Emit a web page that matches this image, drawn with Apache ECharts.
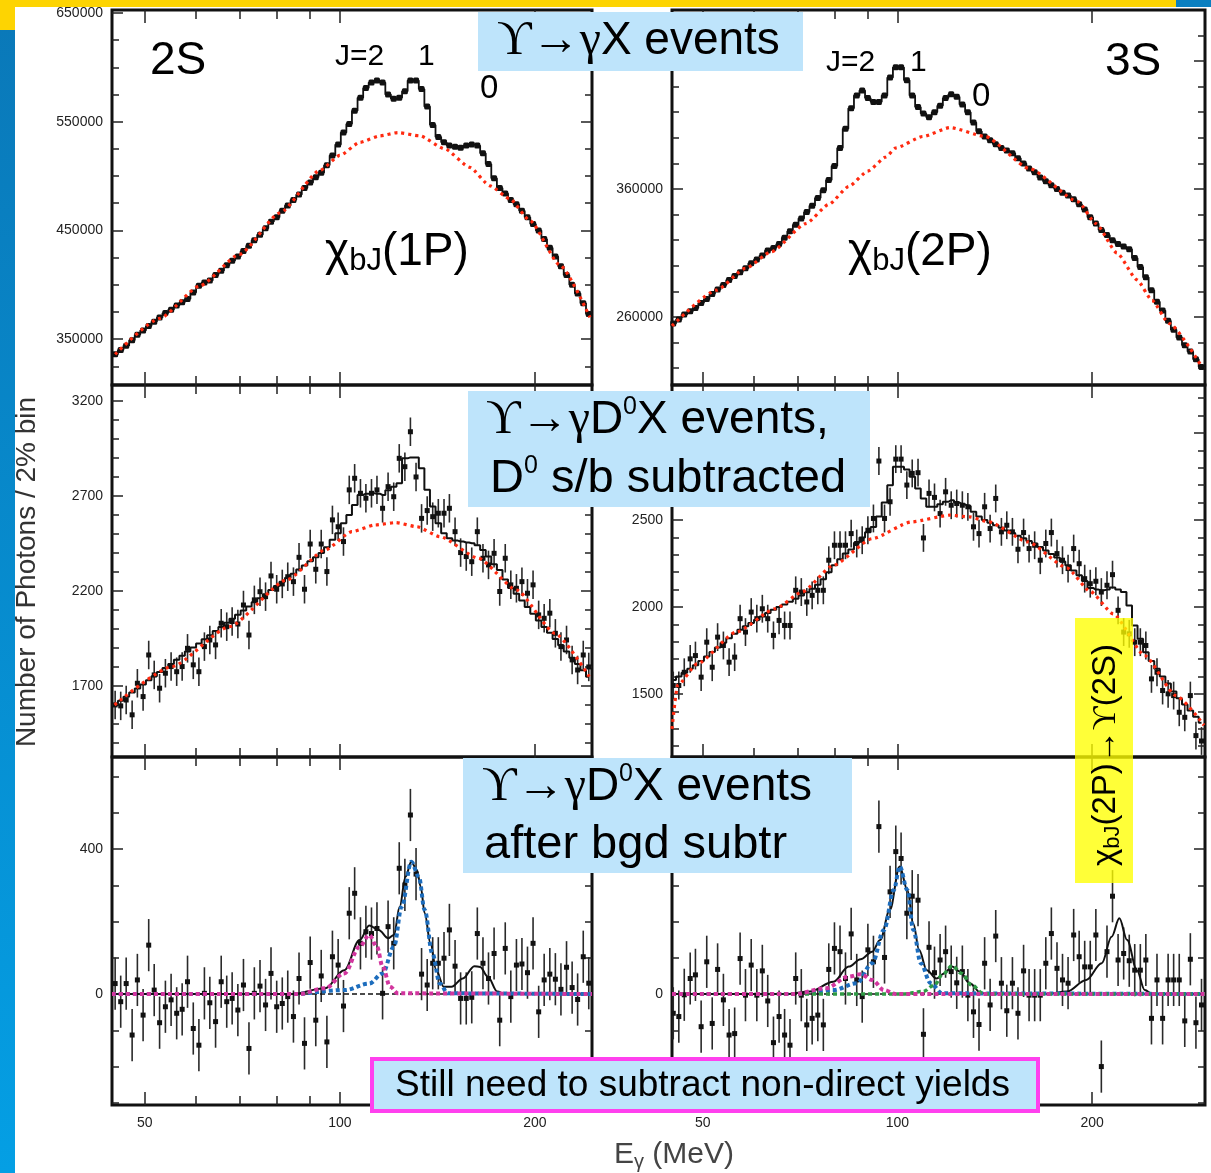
<!DOCTYPE html>
<html>
<head>
<meta charset="utf-8">
<title>Upsilon -> gamma D0 X photon spectra</title>
<script src="https://cdn.jsdelivr.net/npm/echarts@6.0.0/dist/echarts.min.js"></script>
<style>
  html, body { margin: 0; padding: 0; background: #fff; }
  #main { width: 1211px; height: 1173px; }
</style>
</head>
<body>
<div id="main"></div>
<script>
var SANS = "'Liberation Sans', Arial, Helvetica, sans-serif";
var SERIF = "'Liberation Serif', 'DejaVu Serif', 'Times New Roman', serif";

// photon energy bin centres (MeV), 2% bins
var EGAMMA = [45.0, 45.9, 46.8, 47.8, 48.7, 49.7, 50.7, 51.7, 52.7, 53.8,
  54.9, 56.0, 57.1, 58.2, 59.4, 60.6, 61.8, 63.0, 64.3, 65.6,
  66.9, 68.2, 69.6, 71.0, 72.4, 73.8, 75.3, 76.8, 78.3, 79.9,
  81.5, 83.1, 84.8, 86.5, 88.2, 90.0, 91.8, 93.6, 95.5, 97.4,
  99.4, 101.3, 103.4, 105.4, 107.6, 109.7, 111.9, 114.1, 116.4, 118.7,
  121.1, 123.5, 126.0, 128.5, 131.1, 133.7, 136.4, 139.1, 141.9, 144.8,
  147.6, 150.6, 153.6, 156.7, 159.8, 163.0, 166.3, 169.6, 173.0, 176.5,
  180.0, 183.6, 187.3, 191.0, 194.8, 198.7, 202.7, 206.7, 210.9, 215.1,
  219.4, 223.8, 228.3, 232.8, 237.5, 242.2, 247.1, 252.0, 257.1, 262.2,
  267.4, 272.8, 278.2, 283.8, 289.5, 295.3];
var E2S = EGAMMA.slice(0, 86);

var X_LABELS = [50, 100, 200];
var X_MINOR = [60, 70, 80, 90];

// ---- top row: all events
var dir2S = [336000, 340000, 344000, 349000, 354000, 358000, 362000, 366000, 370000, 374000,
  377000, 381000, 384000, 387000, 393000, 399000, 402000, 404000, 409000, 413000,
  418000, 422000, 426000, 431000, 436000, 441000, 446000, 452000, 458000, 462000,
  468000, 473000, 478000, 483000, 489000, 494000, 499000, 503000, 510000, 519000,
  529000, 540000, 548000, 560000, 572000, 581000, 586000, 588000, 586000, 575000,
  571000, 572000, 578000, 588000, 588000, 580000, 564000, 547000, 536000, 531000,
  528000, 527000, 526000, 528000, 529000, 528000, 521000, 511000, 498000, 489000,
  484000, 478000, 474000, 468000, 462000, 456000, 450000, 442000, 434000, 426000,
  417000, 409000, 400000, 392000, 383000, 373000];
var bkg2S_E = [45.0, 52.7, 60.8, 70.0, 80.8, 93.1, 100.0, 107.4, 115.3, 122.9, 132.9, 145.2, 158.7, 170.5, 183.0, 196.5, 218.6, 243.2];
var bkg2S_Y = [336000, 369000, 399000, 428000, 466000, 505000, 519000, 531000, 537000, 540000, 537000, 525000, 508000, 491000, 479000, 459000, 418000, 370000];

var dir3S = [255000, 258000, 262000, 264500, 267000, 271000, 274000, 278000, 281500, 285000,
  289000, 292000, 295000, 298000, 302000, 305000, 308000, 312000, 314000, 317000,
  322000, 327000, 332000, 337000, 342000, 347000, 353000, 359000, 367000, 378000,
  392000, 407000, 423000, 433000, 437000, 431000, 428000, 428000, 433000, 447000,
  455000, 455000, 445000, 433000, 424000, 419000, 416000, 420000, 425000, 431000,
  434000, 432000, 426000, 420000, 412000, 405000, 401000, 398000, 395000, 392000,
  390000, 388000, 384000, 380000, 376000, 373000, 369000, 366000, 363000, 360000,
  357000, 355000, 352000, 348000, 344000, 338000, 333000, 328000, 324000, 320000,
  317000, 315000, 313000, 306000, 299000, 291000, 281000, 272000, 265000, 257000,
  250000, 244000, 238000, 233000, 227000, 221000];
var bkg3S_E = [44.8, 52.5, 58.2, 63.8, 72.2, 78.3, 84.1, 90.0, 96.0, 99.3, 109.5, 120.6, 136.7, 159.9, 190.3, 202.7, 218.6, 234.7, 247.6, 263.0, 295.7];
var bkg3S_Y = [253000, 281000, 298000, 311000, 333000, 348000, 362000, 374000, 385000, 392000, 401000, 408000, 401000, 376000, 350000, 333000, 310000, 289000, 273000, 255000, 221000];

// ---- middle row: D0 events, s/b subtracted
var d0_2S = [1600, 1595, 1626, 1548, 1714, 1644, 1863, 1758, 1688, 1767,
  1802, 1775, 1802, 1898, 1811, 1775, 1907, 1942, 1916, 2030,
  2012, 2039, 2026, 2126, 1968, 2153, 2196, 2170, 2279, 2209,
  2237, 2275, 2249, 2377, 2209, 2447, 2314, 2447, 2302, 2574,
  2538, 2460, 2732, 2793, 2714, 2688, 2714, 2732, 2635, 2749,
  2696, 2898, 2854, 3038, 2800, 2582, 2623, 2591, 2609, 2609,
  2635, 2512, 2402, 2381, 2354, 2512, 2372, 2337, 2398, 2197,
  2372, 2232, 2214, 2249, 2188, 2232, 2074, 2056, 2083, 1977,
  1907, 1942, 1837, 1784, 1863, 1800];
var fitD0_2S = [1600, 1622, 1643, 1665, 1686, 1708, 1730, 1751, 1773, 1794,
  1816, 1838, 1859, 1881, 1902, 1924, 1946, 1967, 1989, 2010,
  2032, 2054, 2075, 2097, 2118, 2140, 2162, 2183, 2205, 2226,
  2248, 2270, 2291, 2313, 2334, 2356, 2378, 2400, 2430, 2470,
  2504, 2556, 2600, 2653, 2705, 2712, 2714, 2712, 2705, 2730,
  2749, 2767, 2898, 2903, 2903, 2846, 2732, 2644, 2556, 2504,
  2477, 2465, 2460, 2455, 2451, 2440, 2416, 2381, 2340, 2310,
  2260, 2215, 2185, 2150, 2115, 2080, 2045, 2010, 1980, 1947,
  1914, 1881, 1848, 1815, 1782, 1749];
var bkgD0_2S_E = [44.9, 55.1, 67.5, 82.8, 94.9, 104.4, 113.3, 122.0, 131.5, 142.7, 163.6, 187.4, 214.7, 242.6];
var bkgD0_2S_Y = [1600, 1802, 2012, 2258, 2416, 2512, 2547, 2560, 2538, 2486, 2372, 2205, 1977, 1749];

var d0_3S = [1549, 1549, 1625, 1702, 1721, 1597, 1798, 1654, 1827, 1779,
  1683, 1712, 1933, 1856, 1971, 1933, 1990, 1933, 1837, 1923,
  1894, 1894, 2096, 2086, 2029, 2067, 2096, 2096, 2269, 2355,
  2355, 2355, 2422, 2365, 2384, 2441, 2509, 2839, 2509, 2605,
  2850, 2850, 2701, 2768, 2772, 2397, 2653, 2630, 2537, 2662,
  2585, 2595, 2585, 2576, 2461, 2422, 2576, 2451, 2624, 2432,
  2470, 2432, 2332, 2428, 2336, 2355, 2269, 2365, 2428, 2307,
  2269, 2221, 2336, 2249, 2163, 2134, 2148, 2086, 2125, 2186,
  1981, 1856, 1846, 1798, 1798, 1779, 1587, 1625, 1520, 1501,
  1491, 1395, 1366, 1491, 1261, 1230];
var fitD0_3S = [1580, 1600, 1622, 1645, 1665, 1690, 1716, 1742, 1768, 1794,
  1820, 1846, 1870, 1889, 1908, 1927, 1946, 1965, 1984, 2000,
  2014, 2030, 2048, 2066, 2085, 2105, 2128, 2160, 2200, 2240,
  2275, 2307, 2330, 2370, 2400, 2430, 2460, 2520, 2600, 2700,
  2806, 2806, 2790, 2749, 2681, 2624, 2576, 2576, 2590, 2605,
  2614, 2600, 2590, 2580, 2547, 2520, 2500, 2485, 2470, 2455,
  2440, 2425, 2410, 2395, 2380, 2365, 2345, 2325, 2305, 2285,
  2262, 2240, 2210, 2182, 2150, 2110, 2100, 2096, 2100, 2112,
  2100, 2086, 2009, 1894, 1817, 1740, 1690, 1645, 1600, 1560,
  1515, 1475, 1440, 1405, 1370, 1335];
var bkgD0_3S_E = [44.8, 45.7, 49.0, 56.3, 64.7, 71.2, 79.6, 91.4, 105.0, 120.6, 129.3, 138.5, 159.2, 182.8, 198.6, 215.8, 241.2, 269.5, 298.0];
var bkgD0_3S_Y = [1300, 1550, 1673, 1856, 1990, 2086, 2240, 2393, 2489, 2528, 2518, 2489, 2374, 2225, 2090, 1960, 1721, 1491, 1320];

// ---- bottom row: after background subtraction
var sub2S = [29, -21, 29, -113, 39, -58, 135, 11, -79, -35,
  -16, -53, -42, 34, -95, -141, 2, -24, -76, 34,
  -21, -12, -44, 25, -150, 2, 22, -30, 57, -35,
  -26, -7, -62, 43, -136, 87, -72, 50, -132, 103,
  80, -33, 223, 278, 140, 172, 167, 181, 2, 186,
  140, 347, 301, 494, 331, 55, 25, 85, 85, 99,
  177, 77, -12, -12, -9, 167, 85, 43, 112, -72,
  126, -7, 80, 83, 59, 140, -49, 39, 55, 41,
  13, 74, 18, -15, 103, 30];
var fit2S_E = [44.5, 84.0, 94.9, 101.6, 107.3, 111.0, 114.8, 118.8, 121.2, 123.7, 126.3, 128.9, 131.5, 133.3, 135.2, 138.0, 140.8, 144.7, 148.7, 154.8, 161.3, 164.6, 169.2, 175.0, 179.9, 245.0];
var fit2S_Y = [0, 0, 16, 66, 149, 189, 177, 154, 163, 241, 324, 365, 342, 296, 223, 140, 66, 20, 20, 43, 77, 75, 48, 7, 0, 0];
var blue2S_E = [44.5, 84.0, 101.6, 111.0, 116.4, 121.2, 124.6, 128.9, 132.4, 135.2, 138.9, 142.7, 146.7, 245.0];
var blue2S_Y = [0, 0, 11, 29, 57, 131, 241, 365, 324, 232, 112, 29, 2, 0];
var mag2S_E = [44.5, 86.3, 94.9, 101.6, 107.3, 111.0, 114.1, 116.4, 119.6, 122.9, 245.0];
var mag2S_Y = [0, 0, 16, 57, 131, 163, 131, 76, 20, 2, 0];

var sub3S = [-53, -62, -2, 43, 53, -90, 89, -81, 68, -16,
  -113, -109, 98, -3, 80, -3, 64, -19, -134, -62,
  -113, -141, 43, -3, -85, -67, -58, -85, 68, 126,
  117, 43, 166, 39, -7, 122, 89, 462, 101, 282,
  393, 374, 223, 270, 259, -111, 129, 59, 94, 117,
  62, 31, 62, -3, -49, -84, 85, -30, 160, 30,
  -46, 30, -53, 64, -3, -3, -3, 85, 167, 71,
  39, 30, 163, 103, 75, 75, 163, -200, 117, 270,
  94, 112, 92, 66, 66, 94, -67, 39, -67, 39,
  39, 39, -74, 96, -79, -30];
var fit3S_E = [44.8, 67.4, 73.2, 79.6, 84.1, 87.7, 91.4, 94.0, 97.3, 100.8, 103.6, 105.8, 108.0, 111.0, 114.9, 118.1, 121.5, 124.9, 129.3, 134.8, 170.0, 182.8, 195.9, 207.0, 214.4, 220.4, 226.6, 234.6, 241.2, 247.9, 299.0];
var fit3S_Y = [0, 0, 7, 34, 76, 96, 117, 149, 232, 352, 287, 195, 122, 66, 43, 57, 76, 62, 30, 2, 0, 7, 39, 85, 158, 209, 149, 66, 11, 0, 0];
var blue3S_E = [44.8, 69.3, 79.6, 86.5, 91.4, 95.3, 98.7, 100.8, 103.6, 105.8, 108.7, 112.5, 117.3, 299.0];
var blue3S_Y = [0, 0, 11, 30, 85, 177, 287, 352, 287, 177, 85, 30, 2, 0];
var mag3S_E = [44.8, 69.3, 77.4, 84.1, 87.7, 91.4, 95.3, 99.3, 299.0];
var mag3S_Y = [0, 0, 16, 48, 55, 39, 11, 0, 0];
var grn3S_E = [44.8, 102.1, 109.5, 114.1, 117.3, 121.5, 125.7, 130.2, 135.7, 138.5, 299.0];
var grn3S_Y = [0, 0, 7, 25, 53, 78, 57, 25, 2, 0, 0];

// error bar half widths
var ERR_D0_2S = 75, ERR_D0_3S = 80, ERR_SUB = 72;

// y tick labels
var YLAB_2S = [350000, 450000, 550000, 650000];
var YLAB_3S = [260000, 360000, 460000];
var YLAB_D0_2S = [1700, 2200, 2700, 3200];
var YLAB_D0_3S = [1500, 2000, 2500, 3000];
var YLAB_SUB = [0, 400];

function steps(a, b, d) {
  var out = [];
  for (var v = a; v <= b; v += d) out.push(v);
  return out;
}
function pairs(xs, ys) {
  return ys.map(function (v, i) { return [xs[i], v]; });
}
function plain(v) { return String(v); }

var grids = [], xAxes = [], yAxes = [], series = [];
var tickLine = { color: '#222', width: 1.5 };

function addPanel(box, xr, yr, yLabels, yMinor, showX) {
  var g = grids.length;
  grids.push({ left: box[0], top: box[1], width: box[2], height: box[3],
    show: true, borderColor: '#111', borderWidth: 3, backgroundColor: 'rgba(0,0,0,0)' });
  var xi = xAxes.length, yi = yAxes.length;
  ['bottom', 'top'].forEach(function (pos) {
    [[X_LABELS, 13], [X_MINOR, 9]].forEach(function (t, k) {
      xAxes.push({
        type: 'log', logBase: 10, gridIndex: g, position: pos, min: xr[0], max: xr[1],
        axisLine: { show: false, onZero: false },
        splitLine: { show: false },
        axisTick: { inside: true, length: t[1], customValues: t[0], lineStyle: tickLine },
        axisLabel: (showX && pos === 'bottom' && k === 0)
          ? { customValues: X_LABELS, formatter: plain, margin: 11, fontSize: 14, color: '#222', fontFamily: SANS }
          : { show: false }
      });
    });
  });
  ['left', 'right'].forEach(function (pos) {
    [[yLabels, 11], [yMinor, 7]].forEach(function (t, k) {
      yAxes.push({
        type: 'value', gridIndex: g, position: pos, min: yr[0], max: yr[1],
        axisLine: { show: false, onZero: false },
        splitLine: { show: false },
        axisTick: { inside: true, length: t[1], customValues: t[0], lineStyle: tickLine },
        axisLabel: (pos === 'left' && k === 0)
          ? { customValues: yLabels, formatter: plain, margin: 9, fontSize: 14, color: '#222', fontFamily: SANS }
          : { show: false }
      });
    });
  });
  return { x: xi, y: yi };
}

function histo(p, data, dots) {
  return { type: 'line', xAxisIndex: p.x, yAxisIndex: p.y, data: data, step: 'middle',
    symbol: dots ? 'roundRect' : 'none', symbolSize: 6, showSymbol: !!dots,
    itemStyle: { color: '#111' }, lineStyle: { color: '#111', width: dots ? 1.8 : 2 }, z: 3 };
}
function dotted(p, data, color, width, dash, z) {
  return { type: 'line', xAxisIndex: p.x, yAxisIndex: p.y, data: data, smooth: 0.2, smoothMonotone: 'x',
    symbol: 'none', lineStyle: { color: color, width: width, type: dash, cap: 'butt' }, z: z };
}
function points(p, data, err) {
  return { type: 'custom', xAxisIndex: p.x, yAxisIndex: p.y, data: data, clip: true, z: 2,
    renderItem: function (params, api) {
      var x = api.value(0), y = api.value(1);
      var c = api.coord([x, y]);
      var hi = api.coord([x, y + err]);
      var lo = api.coord([x, y - err]);
      return { type: 'group', children: [
        { type: 'line', shape: { x1: c[0], y1: hi[1], x2: c[0], y2: lo[1] }, style: { stroke: '#2a2a2a', lineWidth: 1.6 } },
        { type: 'rect', shape: { x: c[0] - 2.5, y: c[1] - 2.5, width: 5, height: 5 }, style: { fill: '#111' } }
      ] };
    } };
}

var RED = '#ff2a10', BLUE = '#1d6dbd', MAG = '#d2359e', GRN = '#2f9a45';

// top row
var p = addPanel([112, 10, 480, 375], [44.5, 245], [307800, 652750], YLAB_2S, steps(325000, 650000, 25000), false);
series.push(histo(p, pairs(E2S, dir2S), true), dotted(p, pairs(bkg2S_E, bkg2S_Y), RED, 3.2, [3, 4], 4));
p = addPanel([672, 10, 533, 375], [44.8, 299], [206900, 499800], YLAB_3S, steps(220000, 480000, 20000), false);
series.push(histo(p, pairs(EGAMMA, dir3S), true), dotted(p, pairs(bkg3S_E, bkg3S_Y), RED, 3.2, [3, 4], 4));

// middle row
p = addPanel([112, 385, 480, 372], [44.5, 245], [1326, 3284], YLAB_D0_2S, steps(1400, 3200, 100), false);
series.push(points(p, pairs(E2S, d0_2S), ERR_D0_2S), histo(p, pairs(E2S, fitD0_2S), false),
  dotted(p, pairs(bkgD0_2S_E, bkgD0_2S_Y), RED, 3.2, [3, 4], 4));
p = addPanel([672, 385, 533, 372], [44.8, 299], [1138, 3276], YLAB_D0_3S, steps(1200, 3200, 100), false);
series.push(points(p, pairs(EGAMMA, d0_3S), ERR_D0_3S), histo(p, pairs(EGAMMA, fitD0_3S), false),
  dotted(p, pairs(bkgD0_3S_E, bkgD0_3S_Y), RED, 3.2, [3, 4], 4));

// bottom row
function fitLine(p, data) {
  return { type: 'line', xAxisIndex: p.x, yAxisIndex: p.y, data: data, smooth: 0.35, smoothMonotone: 'x',
    symbol: 'none', lineStyle: { color: '#111', width: 2 }, z: 3,
    markLine: { silent: true, symbol: 'none', label: { show: false },
      lineStyle: { color: '#111', type: [5, 3], width: 1.6 }, data: [{ yAxis: 0 }] } };
}
function comp(p, e, y, color, w, z) {
  var s = dotted(p, pairs(e, y), color, w, [4, 3], z);
  s.smooth = 0.35;
  return s;
}
p = addPanel([112, 757, 480, 348], [44.5, 245], [-306, 654], YLAB_SUB, steps(-300, 600, 100), true);
series.push(points(p, pairs(E2S, sub2S), ERR_SUB), fitLine(p, pairs(fit2S_E, fit2S_Y)),
  comp(p, blue2S_E, blue2S_Y, BLUE, 4, 5),
  comp(p, mag2S_E, mag2S_Y, MAG, 4, 6));
p = addPanel([672, 757, 533, 348], [44.8, 299], [-306, 654], YLAB_SUB, steps(-300, 600, 100), true);
series.push(points(p, pairs(EGAMMA, sub3S), ERR_SUB), fitLine(p, pairs(fit3S_E, fit3S_Y)),
  comp(p, blue3S_E, blue3S_Y, BLUE, 4, 5),
  comp(p, grn3S_E, grn3S_Y, GRN, 3.5, 5),
  comp(p, mag3S_E, mag3S_Y, MAG, 4, 6));

// slide decorations and annotations
var BOX = '#bee4fb';
var rich = {
  n: { fontFamily: SANS, fontSize: 46, lineHeight: 50, fill: '#000' },
  s: { fontFamily: SERIF, fontSize: 48, lineHeight: 50, fill: '#000' },
  sup: { fontFamily: SANS, fontSize: 25, lineHeight: 30, verticalAlign: 'top', fill: '#000' }
};
function txt(x, y, text, size, extra) {
  var st = { text: text, fontFamily: SANS, fontSize: size, fill: '#000', align: 'left', verticalAlign: 'middle' };
  if (extra) for (var k in extra) st[k] = extra[k];
  return { type: 'text', x: x, y: y, z: 120, style: st };
}
var chiRich = {
  m: { fontFamily: SANS, fontSize: 46, lineHeight: 50, fill: '#000' },
  sb: { fontFamily: SANS, fontSize: 31, lineHeight: 28, verticalAlign: 'bottom', fill: '#000' }
};

var elements = [
  { type: 'rect', z: 1, shape: { x: 0, y: 0, width: 15, height: 1173 },
    style: { fill: new echarts.graphic.LinearGradient(0, 0, 0, 1, [
      { offset: 0, color: '#0a78b8' }, { offset: 1, color: '#049fe4' }]) } },
  { type: 'rect', z: 1, shape: { x: 0, y: 0, width: 15, height: 30 }, style: { fill: '#fdd402' } },
  { type: 'rect', z: 1, shape: { x: 0, y: 0, width: 1176, height: 7 }, style: { fill: '#fdd402' } },
  { type: 'rect', z: 1, shape: { x: 1176, y: 0, width: 35, height: 7 }, style: { fill: '#0a7fc0' } },

  txt(150, 61, '2S', 46),
  txt(1105, 62, '3S', 46),
  txt(335, 57, 'J=2', 30), txt(418, 57, '1', 30), txt(480, 89, '0', 33),
  txt(826, 63, 'J=2', 30), txt(910, 63, '1', 30), txt(972, 97, '0', 33),
  txt(325, 252, '{m|\u03C7}{sb|bJ}{m|(1P)}', 46, { rich: chiRich }),
  txt(848, 252, '{m|\u03C7}{sb|bJ}{m|(2P)}', 46, { rich: chiRich }),

  { type: 'rect', z: 110, shape: { x: 478, y: 12, width: 325, height: 59 }, style: { fill: BOX } },
  txt(497, 41, '{s|\u03D2\u2192\u03B3}{n|X events}', 46, { rich: {
    n: { fontFamily: SANS, fontSize: 46, fill: '#000' }, s: { fontFamily: SERIF, fontSize: 48, fill: '#000' } } }),

  { type: 'rect', z: 110, shape: { x: 468, y: 391, width: 402, height: 116 }, style: { fill: BOX } },
  txt(486, 420, '{s|\u03D2\u2192\u03B3}{n|D}{sup|0}{n|X events,}', 46, { rich: rich }),
  txt(490, 479, '{n|D}{sup|0}{n| s/b subtracted}', 47, { rich: {
    n: { fontFamily: SANS, fontSize: 47, lineHeight: 50, fill: '#000' },
    sup: rich.sup } }),

  { type: 'rect', z: 110, shape: { x: 463, y: 758, width: 389, height: 115 }, style: { fill: BOX } },
  txt(482, 787, '{s|\u03D2\u2192\u03B3}{n|D}{sup|0}{n|X events}', 46, { rich: rich }),
  txt(484, 845, 'after bgd subtr', 47),

  { type: 'rect', z: 110, shape: { x: 372, y: 1059, width: 666, height: 52 },
    style: { fill: BOX, stroke: '#ff40ee', lineWidth: 4 } },
  txt(395, 1086, 'Still need to subtract non-direct yields', 37),

  { type: 'rect', z: 110, shape: { x: 1075, y: 618, width: 58, height: 265 }, style: { fill: 'rgba(255,255,0,0.78)' } },
  { type: 'text', z: 120, x: 1106, y: 755, rotation: Math.PI / 2,
    style: { text: '{m|\u03C7}{sb|bJ}{m|(2P)}{s|\u2192\u03D2}{m|(2S)}', align: 'center', verticalAlign: 'middle',
      rich: {
        m: { fontFamily: SANS, fontSize: 33, lineHeight: 36, fill: '#000' },
        s: { fontFamily: SERIF, fontSize: 33, lineHeight: 36, fill: '#000' },
        sb: { fontFamily: SANS, fontSize: 22, lineHeight: 24, verticalAlign: 'bottom', fill: '#000' } } } },

  { type: 'text', z: 120, x: 27, y: 572, rotation: Math.PI / 2,
    style: { text: 'Number of Photons / 2% bin', fontFamily: SANS, fontSize: 28, fill: '#333',
      align: 'center', verticalAlign: 'middle' } },
  txt(614, 1155, '{m|E}{sb|\u03B3}{m| (MeV)}', 30, { rich: {
    m: { fontFamily: SANS, fontSize: 30, lineHeight: 34, fill: '#444' },
    sb: { fontFamily: SANS, fontSize: 20, lineHeight: 20, verticalAlign: 'bottom', fill: '#444' } } })
];

var chart = echarts.init(document.getElementById('main'), null, { renderer: 'canvas' });
chart.setOption({
  backgroundColor: '#ffffff',
  animation: false,
  grid: grids,
  xAxis: xAxes,
  yAxis: yAxes,
  series: series,
  graphic: { elements: elements }
});
</script>
</body>
</html>
